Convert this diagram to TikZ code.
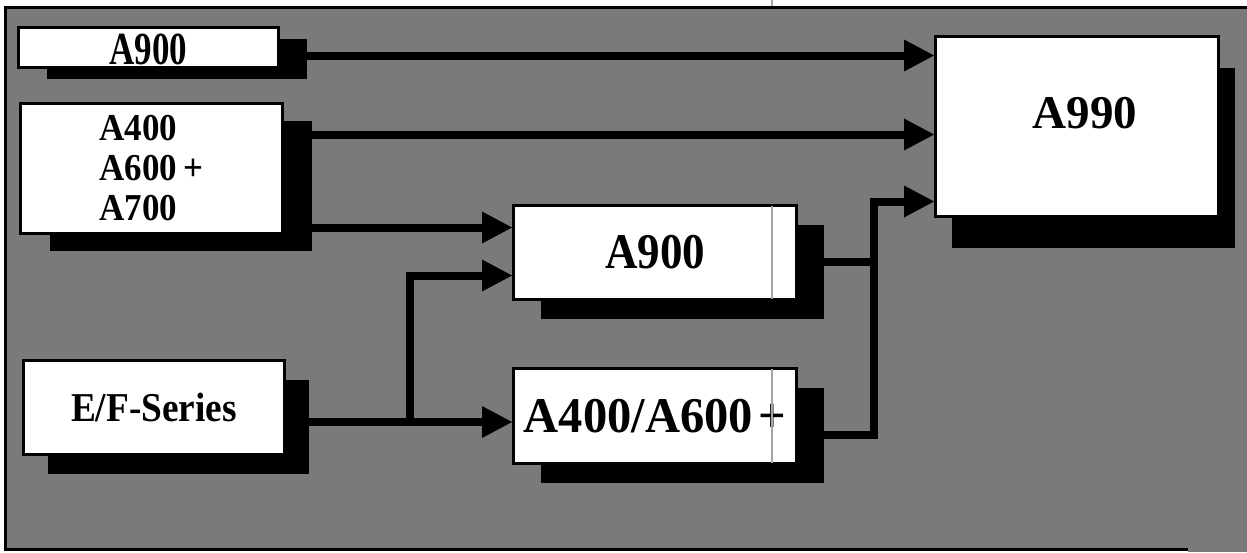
\documentclass[tikz,border=0pt]{standalone}
\usepackage{fontspec}
\usepackage{graphicx}
\setmainfont{Liberation Serif}
\usetikzlibrary{arrows.meta,shadows,calc}
\pgfdeclarelayer{back}
\pgfdeclarelayer{lines}
\pgfsetlayers{back,lines,main}
\newcommand\boxtxt[3]{\scalebox{#2}[1]{\fontsize{#1}{#1}\selectfont\bfseries #3}}
\tikzset{
  boxnode/.style={rectangle, draw=black, line width=1.5pt, fill=white, inner sep=0pt},
  shad/.style 2 args={drop shadow={shadow xshift=#1, shadow yshift=#2, fill=black, opacity=1}},
  conn/.style={line width=4pt, line join=miter, draw=black},
  arr/.style={conn, -{Triangle[length=15pt,width=16pt,line width=0pt]}},
  artifact/.style={draw=black!35, line width=0.6pt},
  bgfill/.style={fill=black!52},
}
\begin{document}
\begin{tikzpicture}[x=0.5pt, y=-0.5pt]
\useasboundingbox (0,0) rectangle (1247,552);
\begin{pgfonlayer}{back}
  \fill[white] (0,0) rectangle (1247,552);
  \fill[bgfill] (5,7) rectangle (1247,552);
  \fill[white] (0,550.5) rectangle (1188,552);
  \draw[line width=1.5pt] (1247,7) -- (5,7) -- (5,549) -- (1188,549);
\end{pgfonlayer}

% boxes
\node[boxnode, shad={14pt}{-5.5pt}, minimum width=130pt, text height=18.5pt, text depth=1.5pt] (a9t) at (148.5,47.5)
  {\boxtxt{23}{0.76}{A900}};
\node[boxnode, shad={14.5pt}{-8.5pt}, minimum width=131pt, minimum height=65pt, align=left,
  font=\fontsize{19}{20}\selectfont\bfseries] (alist) at (151.5,168.5)
  {\scalebox{0.92}[1]{A400}\\ \scalebox{0.92}[1]{A600\hspace{0.18em}+}\\ \scalebox{0.92}[1]{A700}};
\node[boxnode, shad={12pt}{-9.5pt}, minimum width=130.5pt, minimum height=47pt] (ef) at (154,407.5)
  {\boxtxt{20.5}{0.91}{E/F-Series}};
\node[boxnode, shad={13.5pt}{-9.5pt}, minimum width=141.5pt, minimum height=47pt] (a9m) at (655,252.5)
  {\boxtxt{25}{0.9}{A900}};
\node[boxnode, shad={13.5pt}{-9.5pt}, minimum width=141.5pt, minimum height=47.5pt] (a46) at (655,416)
  {\boxtxt{25}{0.97}{A400/A600\hspace{0.12em}+}};
\node[boxnode, shad={8pt}{-15.5pt}, minimum width=141.5pt, text height=46pt, text depth=44pt] (a990) at (1077,126.5)
  {\hspace*{8pt}\boxtxt{23.5}{1}{A990}};

\coordinate (br) at (410,422);
\coordinate (j1) at (873.5,201.5);

\begin{pgfonlayer}{lines}
  \draw[arr] ([yshift=-4pt]a9t.east) -- ([yshift=-4pt]a9t.east -| a990.west);
  \draw[arr] ([yshift=17pt]alist.east) -- ([yshift=17pt]alist.east -| a990.west);
  \draw[arr] ([yshift=-29.5pt]alist.east) -- ([yshift=-29.5pt]alist.east -| a9m.west);
  \draw[arr] ([yshift=-7.25pt]ef.east) -- ([yshift=-7.25pt]ef.east -| a46.west);
  \draw[arr] (br) |- ([yshift=-11.5pt]a9m.west);
  \draw[conn] ([yshift=-4.5pt]a9m.east) -- ([yshift=-4.5pt]a9m.east -| j1);
  \draw[arr] ([yshift=-9.5pt]a46.east) -| (j1) -- (j1 -| a990.west);
\end{pgfonlayer}

% scan artifact line
\draw[artifact] (772,0) -- (772,6);
\draw[artifact, shorten <=0.8pt, shorten >=0.8pt] ([xshift=58.5pt]a9m.north) -- ([xshift=58.5pt]a9m.south);
\draw[artifact, shorten <=0.8pt, shorten >=0.8pt] ([xshift=58.5pt]a46.north) -- ([xshift=58.5pt]a46.south);
\end{tikzpicture}
\end{document}
